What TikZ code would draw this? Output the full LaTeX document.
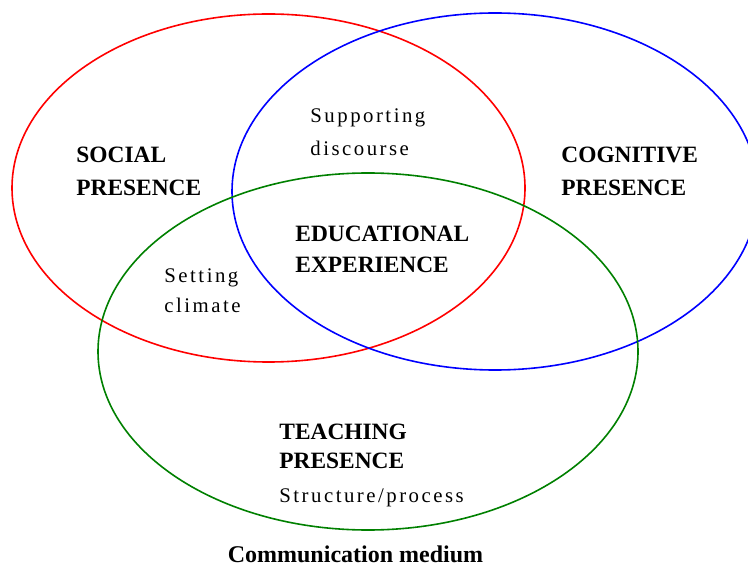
\documentclass[tikz,border=0pt]{standalone}
\usepackage{fontspec}
\setmainfont{Liberation Serif}
\newfontfamily\spacedfont[LetterSpace=12]{Liberation Serif}
\usepackage{xcolor}
\usepackage{tikz}
\usetikzlibrary{positioning}

\definecolor{socred}{RGB}{255,0,0}
\definecolor{cogblue}{RGB}{0,0,255}
\definecolor{teagreen}{RGB}{0,128,0}

\tikzset{
  ring/.style={line width=0.8pt},
  heading/.style={anchor=base west, inner sep=0pt, font=\fontsize{11.7}{14}\selectfont\bfseries},
  remark/.style={anchor=base west, inner sep=0pt, font=\fontsize{10.4}{12}\selectfont\spacedfont}
}

\begin{document}
\begin{tikzpicture}[x=0.5pt, y=-0.5pt]
\useasboundingbox (0,0) rectangle (748,566);
% the three presences
\draw[ring, socred] (268.5,188) ellipse [x radius=128.25pt, y radius=87pt];
\draw[ring, cogblue] (495,191.5) ellipse [x radius=131.5pt, y radius=89.25pt];
\draw[ring, teagreen] (368,351.5) ellipse [x radius=135pt, y radius=89.25pt];
% labels
\node[heading] (social1) at (76,163) {SOCIAL};
\node[heading] (social2) at (76,196) {PRESENCE};
\node[heading] (cogn1) at (561,163) {COGNITIVE};
\node[heading] (cogn2) at (561,196) {PRESENCE};
\node[remark] (support1) at (310,123) {Supporting};
\node[remark] (support2) at (310,156) {discourse};
\node[heading] (educ1) at (295,242) {EDUCATIONAL};
\node[heading] (educ2) at (295,273) {EXPERIENCE};
\node[remark] (climate1) at (164,283) {Setting};
\node[remark] (climate2) at (164,313) {climate};
\node[heading] (teach1) at (279,439) {TEACHING};
\node[heading] (teach2) at (279,468) {PRESENCE};
\node[remark] (struct) at (279,502) {Structure/process};
\node[heading, anchor=base, font=\fontsize{12}{14}\selectfont\bfseries] (medium) at (355.5,562) {Communication medium};
\end{tikzpicture}
\end{document}
